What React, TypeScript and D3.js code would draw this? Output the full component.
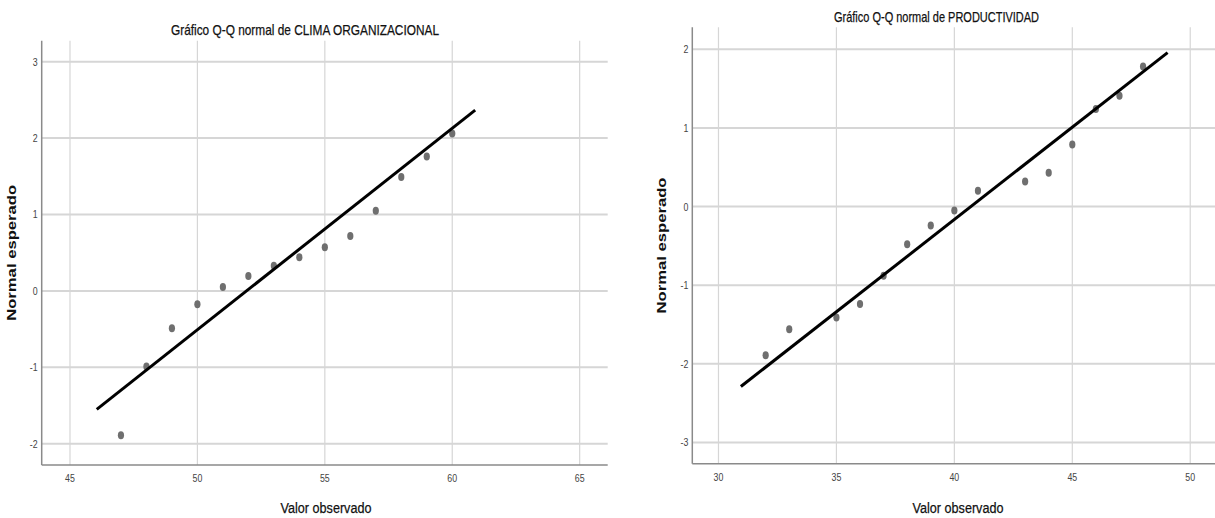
import React from 'react';
import * as d3 from 'd3';

// CLIMA ORGANIZACIONAL: observed values vs expected normal
const climaValues = [47, 48, 49, 50, 51, 52, 53, 54, 55, 56, 57, 58, 59, 60];
const climaExpected = [-1.89, -0.99, -0.49, -0.175, 0.05, 0.195, 0.33, 0.44, 0.57, 0.72, 1.05, 1.49, 1.76, 2.06];
const climaXTicks = [45, 50, 55, 60, 65];
const climaYTicks = [-2, -1, 0, 1, 2, 3];
const climaLineRange = [46.05, 60.9];
const climaMean = 51.93;
const climaSd = 3.79;

// PRODUCTIVIDAD
const prodValues = [32, 33, 35, 36, 37, 38, 39, 40, 41, 43, 44, 45, 46, 47, 48];
const prodExpected = [-1.89, -1.56, -1.41, -1.24, -0.88, -0.48, -0.24, -0.05, 0.2, 0.32, 0.43, 0.79, 1.24, 1.41, 1.78];
const prodXTicks = [30, 35, 40, 45, 50];
const prodYTicks = [-3, -2, -1, 0, 1, 2];
const prodLineRange = [30.95, 49.04];
const prodMean = 40.7;
const prodSd = 4.26;

const sans = "'Liberation Sans', Arial, sans-serif";

type QQProps = {
  title: string;
  titleX: number;
  titleY: number;
  titleLen: number;
  values: number[];
  expected: number[];
  xTicks: number[];
  yTicks: number[];
  xDomain: [number, number];
  yDomain: [number, number];
  lineRange: number[];
  mean: number;
  sd: number;
  left: number;
  right: number;
  top: number;
  bottom: number;
  xTitleX: number;
};

const QQChart = (p: QQProps) => {
  const x = d3.scaleLinear().domain(p.xDomain).range([p.left, p.right]);
  const y = d3.scaleLinear().domain(p.yDomain).range([p.bottom, p.top]);
  const line = d3.line<number>()
    .x(d => x(d))
    .y(d => y((d - p.mean) / p.sd));
  const yMid = (p.top + p.bottom) / 2;

  return (
    <g>
      <text x={p.titleX} y={p.titleY} textAnchor="middle" fontFamily={sans} fontSize={15}
        fill="#111" stroke="#111" strokeWidth={0.25}
        textLength={p.titleLen} lengthAdjust="spacingAndGlyphs">{p.title}</text>

      {/* grid */}
      {p.xTicks.map(t => (
        <line key={'gx' + t} x1={x(t)} x2={x(t)} y1={p.top} y2={p.bottom} stroke="#d6d6d6" strokeWidth={1.2} />
      ))}
      {p.yTicks.map(t => (
        <line key={'gy' + t} x1={p.left} x2={p.right} y1={y(t)} y2={y(t)} stroke="#d6d6d6" strokeWidth={2} />
      ))}

      {/* axes */}
      <line x1={p.left} x2={p.left} y1={p.top} y2={p.bottom} stroke="#8a8a8a" strokeWidth={1.5} />
      <line x1={p.left} x2={p.right} y1={p.bottom} y2={p.bottom} stroke="#8a8a8a" strokeWidth={1.5} />

      {p.xTicks.map(t => (
        <text key={'tx' + t} transform={`translate(${x(t)},${p.bottom + 17}) scale(0.8,1)`} textAnchor="middle"
          fontFamily={sans} fontSize={11} fill="#444">{t}</text>
      ))}
      {p.yTicks.map(t => (
        <text key={'ty' + t} transform={`translate(${p.left - 4},${y(t) + 4}) scale(0.8,1)`} textAnchor="end"
          fontFamily={sans} fontSize={11} fill="#444">{t}</text>
      ))}

      {/* points */}
      {p.values.map((v, i) => (
        <ellipse key={'pt' + i} cx={x(v)} cy={y(p.expected[i])} rx={3.1} ry={4} fill="#6f6f6f" />
      ))}

      {/* reference line */}
      <path d={line(p.lineRange) || ''} fill="none" stroke="#000" strokeWidth={3} />

      <text x={p.xTitleX} y={513} textAnchor="middle" fontFamily={sans} fontSize={15.5}
        fill="#111" stroke="#111" strokeWidth={0.25}
        textLength={91} lengthAdjust="spacingAndGlyphs">Valor observado</text>
      <text transform={`translate(${p.left - 26},${yMid}) rotate(-90)`} textAnchor="middle"
        fontFamily={sans} fontWeight="bold" fontSize={13}
        fill="#111" textLength={136} lengthAdjust="spacingAndGlyphs">Normal esperado</text>
    </g>
  );
};

export default function App() {
  return (
    <svg width={1215} height={518} style={{ position: 'absolute', left: 0, top: 0, background: '#fff' }}>
      <rect width={1215} height={518} fill="#fff" />
      <QQChart
        title="Gráfico Q-Q normal de CLIMA ORGANIZACIONAL"
        titleX={305} titleY={35} titleLen={268}
        values={climaValues} expected={climaExpected}
        xTicks={climaXTicks} yTicks={climaYTicks}
        xDomain={[43.89, 66.1]} yDomain={[-2.279, 3.275]}
        lineRange={climaLineRange} mean={climaMean} sd={climaSd}
        left={41.7} right={607.7} top={40.7} bottom={465}
        xTitleX={326}
      />
      <QQChart
        title="Gráfico Q-Q normal de PRODUCTIVIDAD"
        titleX={936.5} titleY={21.5} titleLen={205}
        values={prodValues} expected={prodExpected}
        xTicks={prodXTicks} yTicks={prodYTicks}
        xDomain={[28.89, 51.05]} yDomain={[-3.27, 2.28]}
        lineRange={prodLineRange} mean={prodMean} sd={prodSd}
        left={692.3} right={1215} top={27.3} bottom={463.7}
        xTitleX={958}
      />
    </svg>
  );
}
